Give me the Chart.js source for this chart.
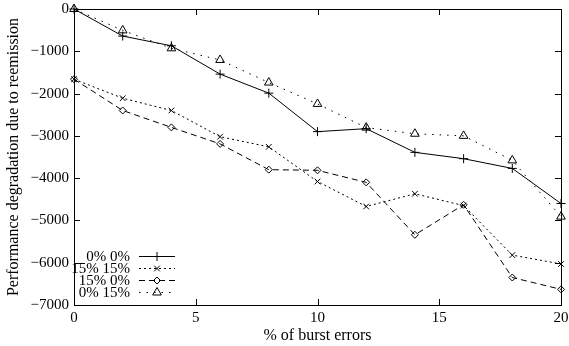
<!DOCTYPE html>
<html>
<head>
<meta charset="utf-8">
<script src="https://cdn.jsdelivr.net/npm/chart.js@4.4.1/dist/chart.umd.min.js"></script>
<style>
  html, body { margin: 0; padding: 0; background: #fff; }
  #wrap { width: 569px; height: 346px; }
</style>
</head>
<body>
<div id="wrap"><canvas id="c" width="569" height="346"></canvas></div>
<script>
// burst error percentages (x)
const burstErrors = [0, 2, 4, 6, 8, 10, 12, 14, 16, 18, 20];
const seriesNames = ['0% 0%', '15% 15%', '15% 0%', '0% 15%'];
const s00   = [0, -640, -870, -1540, -1990, -2900, -2830, -3390, -3540, -3770, -4600];
const s1515 = [-1660, -2110, -2400, -3020, -3260, -4080, -4670, -4370, -4650, -5820, -6030];
const s150  = [-1660, -2400, -2800, -3190, -3800, -3815, -4100, -5340, -4630, -6350, -6630];
const s015  = [0, -505, -930, -1205, -1740, -2245, -2805, -2950, -3000, -3580, -4910];
const xTicks = [0, 5, 10, 15, 20];

const FONT = '"Liberation Serif", "DejaVu Serif", serif';
const FS = 15;      // ticks + key
const FS_T = 16;    // axis titles

function pts(ys) {
  return ys.map((y, i) => ({ x: burstErrors[i], y: y }));
}

const styles = [
  { dash: [], point: 'cross', r: 4.5 },
  { dash: [2, 3], point: 'crossRot', r: 4 },
  { dash: [6, 4], point: 'rectRot', r: 3.5 },
  { dash: [1.5, 6], point: 'triangle', r: 5 }
];
const allSeries = [s00, s1515, s150, s015];

const datasets = allSeries.map((ys, i) => ({
  label: seriesNames[i],
  data: pts(ys),
  borderColor: '#000',
  backgroundColor: 'rgba(0,0,0,0)',
  borderWidth: 1,
  borderDash: styles[i].dash,
  pointStyle: styles[i].point,
  pointRadius: styles[i].r,
  pointBorderColor: '#000',
  pointBorderWidth: 1,
  pointBackgroundColor: 'rgba(0,0,0,0)',
  tension: 0,
  clip: false
}));

// box + inward ticks, gnuplot style
const frame = {
  id: 'frame',
  afterDatasetsDraw(chart) {
    const ctx = chart.ctx, a = chart.chartArea;
    const xs = chart.scales.x, ys = chart.scales.y;
    ctx.save();
    ctx.strokeStyle = '#000';
    ctx.lineWidth = 1;
    ctx.setLineDash([]);
    ctx.strokeRect(a.left + 0.5, a.top + 0.5, a.right - a.left, a.bottom - a.top);
    ctx.beginPath();
    xs.ticks.forEach(t => {
      const p = Math.round(xs.getPixelForValue(t.value)) + 0.5;
      ctx.moveTo(p, a.bottom); ctx.lineTo(p, a.bottom - 6);
      ctx.moveTo(p, a.top); ctx.lineTo(p, a.top + 6);
    });
    ys.ticks.forEach(t => {
      const p = Math.round(ys.getPixelForValue(t.value)) + 0.5;
      ctx.moveTo(a.left, p); ctx.lineTo(a.left + 6, p);
      ctx.moveTo(a.right, p); ctx.lineTo(a.right - 6, p);
    });
    ctx.stroke();
    ctx.restore();
  }
};

// legend: label then line sample with marker
const keyBox = {
  id: 'keyBox',
  afterDraw(chart) {
    const ctx = chart.ctx;
    ctx.save();
    ctx.font = FS + 'px ' + FONT;
    ctx.textAlign = 'right';
    ctx.textBaseline = 'middle';
    chart.data.datasets.forEach((ds, i) => {
      const y = Math.round(256 + i * 12) + 0.5;
      ctx.fillStyle = '#000';
      ctx.fillText(ds.label, 130, y + 1);
      ctx.strokeStyle = '#000';
      ctx.lineWidth = 1;
      ctx.setLineDash(ds.borderDash);
      ctx.beginPath();
      ctx.moveTo(139, y);
      ctx.lineTo(175, y);
      ctx.stroke();
      ctx.setLineDash([]);
      ctx.fillStyle = 'rgba(0,0,0,0)';
      Chart.helpers.drawPoint(ctx, {
        pointStyle: ds.pointStyle, radius: ds.pointRadius, borderWidth: 1
      }, 157, y);
    });
    ctx.restore();
  }
};

new Chart(document.getElementById('c'), {
  type: 'line',
  data: { datasets: datasets },
  options: {
    responsive: false,
    animation: false,
    layout: { padding: { top: 9, right: 8, left: 0, bottom: 0 } },
    plugins: { legend: { display: false }, tooltip: { enabled: false } },
    scales: {
      x: {
        type: 'linear', min: 0, max: 20,
        afterBuildTicks(scale) { scale.ticks = xTicks.map(v => ({ value: v })); },
        afterFit(scale) { scale.height = 41; scale.paddingLeft = 0; scale.paddingRight = 0; },
        grid: { display: false, drawTicks: false },
        border: { display: false },
        ticks: { color: '#000', padding: 4, maxRotation: 0, font: { family: FONT, size: FS } },
        title: { display: true, text: '% of burst errors', color: '#000', padding: { top: 0, bottom: 1 }, font: { family: FONT, size: FS_T } }
      },
      y: {
        min: -7000, max: 0,
        ticks: {
          stepSize: 1000, color: '#000', padding: 5, font: { family: FONT, size: FS },
          callback: v => v < 0 ? '\u2212' + Math.abs(v) : String(v)
        },
        afterFit(scale) { scale.width = 74; scale.paddingTop = 0; scale.paddingBottom = 0; },
        grid: { display: false, drawTicks: false },
        border: { display: false },
        title: { display: true, text: 'Performance degradation due to reemission', color: '#000', padding: { top: 4, bottom: 0 }, font: { family: FONT, size: FS_T } }
      }
    }
  },
  plugins: [frame, keyBox]
});
</script>
</body>
</html>
